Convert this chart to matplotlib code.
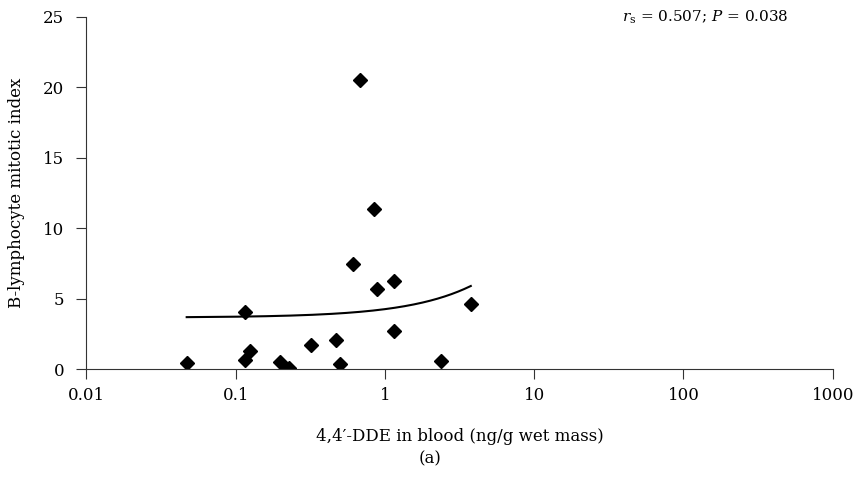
import numpy as np
import matplotlib.pyplot as plt

plt.rcParams['font.family'] = ['DejaVu Serif']
plt.rcParams['mathtext.fontset'] = 'dejavuserif'

# 4,4'-DDE in blood (ng/g wet mass) and B-lymphocyte mitotic index per bird
dde = [0.047, 0.115, 0.125, 0.115, 0.197, 0.228, 0.321, 0.471, 0.497,
       1.15, 2.37, 0.68, 0.84, 0.61, 0.89, 1.15, 3.76]
mitotic = [0.40, 4.03, 1.30, 0.64, 0.52, 0.09, 1.68, 2.04, 0.36,
           2.70, 0.59, 20.5, 11.34, 7.43, 5.70, 6.27, 4.64]

x_ticks = [0.01, 0.1, 1, 10, 100, 1000]
x_labels = ['0.01', '0.1', '1', '10', '100', '1000']
y_ticks = [0, 5, 10, 15, 20, 25]

fig = plt.figure(figsize=(8.55, 4.79), dpi=100)
ax = fig.add_axes([0.101, 0.2296, 0.873, 0.735])

# linear trendline over the data range
b, a = np.polyfit(dde, mitotic, 1)
xs = np.linspace(min(dde), max(dde), 200)
ax.plot(xs, a + b * xs, color='black', lw=1.5)

ax.plot(dde, mitotic, 'D', color='black', markersize=7, linestyle='none')

ax.set_xscale('log')
ax.set_xlim(0.01, 1000)
ax.set_ylim(0, 25)
ax.set_xticks(x_ticks)
ax.set_xticklabels(x_labels)
ax.minorticks_off()
ax.set_yticks(y_ticks)

for s in ['top', 'right']:
    ax.spines[s].set_visible(False)
for s in ['left', 'bottom']:
    ax.spines[s].set_color('#333333')
ax.tick_params(direction='out', length=7, color='#333333', labelsize=12)
ax.tick_params(axis='x', pad=6)
ax.tick_params(axis='y', pad=9)

ax.set_xlabel('4,4\u2032-DDE in blood (ng/g wet mass)', fontsize=12, labelpad=17)
ax.set_ylabel('B-lymphocyte mitotic index', fontsize=12, labelpad=13)

ax.text(0.829, 1.0, r'$r_{\mathrm{s}}$ = 0.507; $P$ = 0.038', transform=ax.transAxes,
        ha='center', va='center', fontsize=11)
fig.text(0.503, 0.043, '(a)', ha='center', va='center', fontsize=12)

fig.savefig('out.png', dpi=100)
